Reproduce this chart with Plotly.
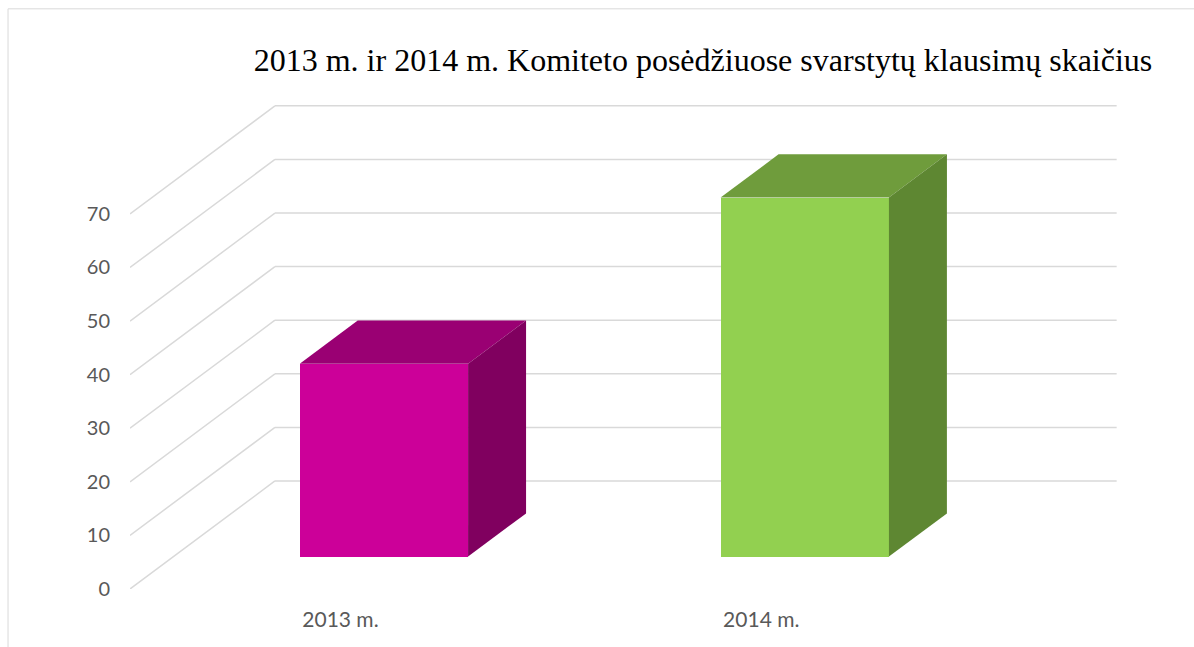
import plotly.graph_objects as go

# ---- data ----
categories = ["2013 m.", "2014 m."]
values = [36, 67]
tick_values = [0, 10, 20, 30, 40, 50, 60, 70]
tick_labels = ["0", "10", "20", "30", "40", "50", "60", "70"]
title_text = "2013 m. ir 2014 m. Komiteto posėdžiuose svarstytų klausimų skaičius"

front_colors = ["#CC0099", "#92D050"]
top_colors = ["#9A0073", "#6F9C3C"]
side_colors = ["#80005F", "#5E8732"]

# ---- pseudo-3D geometry (style constants) ----
W = 1194
H = 647
L_M, B_M = 130, 58
PX_X = 421.0        # px per category unit
PX_Y = 5.357        # px per value unit
D = 145.0 / PX_X    # depth offset in x units
DY = 108.0 / PX_Y   # depth offset in y units
F0, F1 = 0.3, 0.7   # bar depth span (fraction of full depth)
HALF = 0.2          # half bar width
X_MIN, X_MAX = -0.5, 1.85
Y_MIN, Y_MAX = 0, 92

plot_w = (X_MAX - X_MIN) * PX_X
plot_h = (Y_MAX - Y_MIN) * PX_Y
R_M = W - L_M - plot_w
T_M = H - B_M - plot_h

fig = go.Figure()

# gridlines: side wall diagonals + back wall horizontals
shapes = []
grid_col = "#D9D9D9"
for v in tick_values:
    shapes.append(dict(type="line", xref="x", yref="y", layer="below",
                       x0=-0.5, y0=v, x1=-0.5 + D, y1=v + DY,
                       line=dict(color=grid_col, width=1.5)))
    shapes.append(dict(type="line", xref="x", yref="y", layer="below",
                       x0=-0.5 + D, y0=v + DY, x1=1.5 + D, y1=v + DY,
                       line=dict(color=grid_col, width=1.5)))

# outer frame
def px_to_paper_x(px):
    return (px - L_M) / plot_w

def px_to_paper_y(py):
    return (H - B_M - py) / plot_h

shapes.append(dict(type="rect", xref="paper", yref="paper", layer="below",
                   x0=px_to_paper_x(8), x1=px_to_paper_x(W + 20),
                   y0=px_to_paper_y(H + 20), y1=px_to_paper_y(9),
                   line=dict(color="#D9D9D9", width=1), fillcolor="rgba(0,0,0,0)"))

# front faces
for i, (cat, v) in enumerate(zip(categories, values)):
    fig.add_trace(go.Bar(
        x=[i + F0 * D], y=[v], base=[F0 * DY], width=[2 * HALF],
        marker=dict(color=front_colors[i], line=dict(width=0)),
        name=cat, showlegend=False, hoverinfo="skip"))

# top and side faces
for i, v in enumerate(values):
    xl, xr = i - HALF, i + HALF
    top_x = [xl + F0 * D, xr + F0 * D, xr + F1 * D, xl + F1 * D, xl + F0 * D]
    top_y = [v + F0 * DY, v + F0 * DY, v + F1 * DY, v + F1 * DY, v + F0 * DY]
    fig.add_trace(go.Scatter(x=top_x, y=top_y, mode="lines", fill="toself",
                             fillcolor=top_colors[i], line=dict(width=0, color=top_colors[i]),
                             showlegend=False, hoverinfo="skip"))
    side_x = [xr + F0 * D, xr + F1 * D, xr + F1 * D, xr + F0 * D, xr + F0 * D]
    side_y = [F0 * DY, F1 * DY, v + F1 * DY, v + F0 * DY, F0 * DY]
    fig.add_trace(go.Scatter(x=side_x, y=side_y, mode="lines", fill="toself",
                             fillcolor=side_colors[i], line=dict(width=0, color=side_colors[i]),
                             showlegend=False, hoverinfo="skip"))

fig.update_layout(
    width=W, height=H,
    margin=dict(l=L_M, r=R_M, t=T_M, b=B_M, pad=0),
    paper_bgcolor="white", plot_bgcolor="white",
    shapes=shapes,
    bargap=0,
    title=dict(text=title_text, xref="container", yref="container",
               x=703 / W, xanchor="center", y=1 - 60 / H, yanchor="middle",
               font=dict(family="Liberation Serif", size=32, color="#000000")),
    xaxis=dict(range=[X_MIN, X_MAX], tickvals=[0, 1], ticktext=categories,
               showgrid=False, zeroline=False, showline=False, ticks="",
               ticklabelstandoff=16,
               tickfont=dict(family="Lato", size=21, color="#595959")),
    yaxis=dict(range=[Y_MIN, Y_MAX], tickvals=tick_values, ticktext=tick_labels,
               showgrid=False, zeroline=False, showline=False, ticks="",
               ticklabelstandoff=19,
               tickfont=dict(family="Lato", size=20, color="#595959")),
)

fig.write_html("out.html",
               config={"displayModeBar": False},
               post_script="document.body.style.margin='0';document.body.style.padding='0';")
